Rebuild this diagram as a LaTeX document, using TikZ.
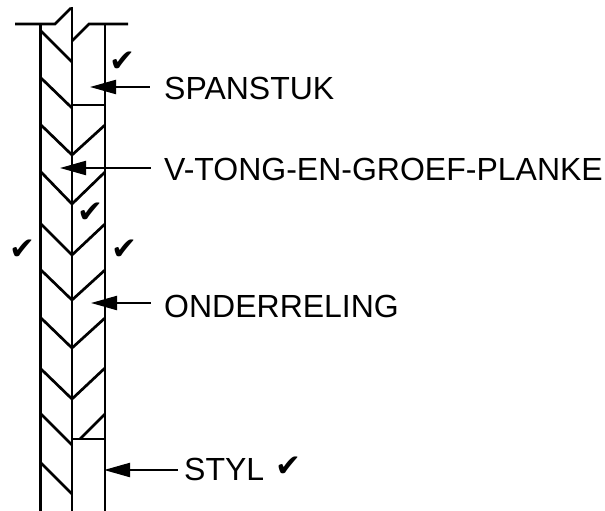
\documentclass[tikz,border=0pt]{standalone}
\usepackage{fontspec}
\setmainfont{Liberation Sans}
\newfontfamily\symfont{DejaVu Sans}
\usetikzlibrary{arrows.meta}
\tikzset{
  wood/.style={line width=2.7pt,line cap=butt},
  lead/.style={line width=2.2pt,{Triangle[length=26pt,width=14pt]}-},
  lab/.style={anchor=west,inner sep=0pt,font=\fontsize{32pt}{34pt}\selectfont},
  tick/.style={inner sep=0pt,font=\symfont\fontsize{31pt}{31pt}\selectfont}
}
\begin{document}
\begin{tikzpicture}[x=1pt,y=-1pt]
\useasboundingbox (0,0) rectangle (605,511);
% outline
\draw[wood] (15,24) -- (55,24) -- (71,8);
\draw[wood] (72,7) -- (72,511);
\draw[wood] (72,41) -- (89,24) -- (128,24);
\draw[wood] (40.5,24) -- (40.5,511);
\draw[wood] (105,24) -- (105,511);
% left grooves
\foreach \a/\b in {31/62,78/108,125/155,172/204,224/255,270/300,318/348,369/399,414/445,463/494}
  \draw[wood] (41,\a) -- (72,\b);
% right grooves
\foreach \a/\b in {125/155,172/204,224/255,270/300,318/348,368/399}
  \draw[wood] (105,\a) -- (72,\b);
\draw[wood] (105,414) -- (80,439);
\draw[wood] (72,105) -- (105,105);
\draw[wood] (72,439) -- (105,439);
% labels
\node[lab] (span) at (164,88) {SPANSTUK};
\node[lab] (tong) at (164,169) {V-TONG-EN-GROEF-PLANKE};
\node[lab] (onder) at (164,306) {ONDERRELING};
\node[lab] (styl) at (184,469) {STYL};
\coordinate (spantip) at (90,87);
\coordinate (tongtip) at (60,168);
\coordinate (ondertip) at (91,303);
\coordinate (styltip) at (104,470);
\draw[lead] (spantip) -- ([xshift=-14pt]span.west |- spantip);
\draw[lead] (tongtip) -- ([xshift=-13pt]tong.west |- tongtip);
\draw[lead] (ondertip) -- ([xshift=-13pt]onder.west |- ondertip);
\draw[lead] (styltip) -- ([xshift=-6pt]styl.west |- styltip);
% ticks
\node[tick] (t1) at (122,62) {✔};
\node[tick] (t2) at (90,213) {✔};
\node[tick] (t3) at (22,250) {✔};
\node[tick] (t4) at (124,250) {✔};
\node[tick] (t5) at (288,467) {✔};
\end{tikzpicture}
\end{document}
